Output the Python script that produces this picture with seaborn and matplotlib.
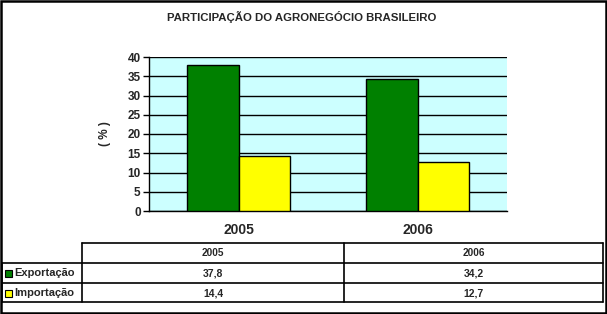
import matplotlib
matplotlib.use("Agg")
import matplotlib.pyplot as plt
import seaborn as sns
import pandas as pd
from matplotlib.patches import Rectangle
from matplotlib.lines import Line2D

# ---- data ----
anos = ["2005", "2006"]
series = ["Exportação", "Importação"]
exportacao = [37.8, 34.2]
importacao = [14.4, 12.7]
yticks = [0, 5, 10, 15, 20, 25, 30, 35, 40]
titulo = "PARTICIPAÇÃO DO AGRONEGÓCIO BRASILEIRO"
ylabel = "( % )"
cores = ["#008000", "#FFFF00"]

df = pd.DataFrame({
    "ano": anos * 2,
    "serie": [series[0]] * 2 + [series[1]] * 2,
    "valor": exportacao + importacao,
})

sns.set_style("white")
plt.rcParams["font.family"] = ["Liberation Sans", "DejaVu Sans"]
plt.rcParams["font.weight"] = "bold"

W, H = 607, 314
fig = plt.figure(figsize=(W / 100, H / 100), dpi=100)

# main axes (pixel-based placement)
x0, x1, ytop, ybot = 149, 507, 57, 211
ax = fig.add_axes([x0 / W, 1 - ybot / H, (x1 - x0) / W, (ybot - ytop) / H])
ax.set_facecolor("#CCFFFF")
sns.barplot(data=df, x="ano", y="valor", hue="serie", palette=cores,
            width=0.57, edgecolor="black", linewidth=1, ax=ax, legend=False,
            saturation=1, zorder=3)
ax.set_ylim(0, 40)
ax.set_xlim(-0.5, 1.5)
ax.set_yticks(yticks)
ax.set_yticklabels([str(v) for v in yticks], fontsize=8.5, fontweight="bold")
ax.yaxis.grid(True, color="black", linewidth=1)
ax.set_axisbelow(True)
ax.set_xticks([0, 1])
ax.set_xticklabels(anos, fontsize=10, fontweight="bold")
ax.set_xticks([-0.5, 0.5, 1.5], minor=True)
ax.tick_params(axis="x", which="major", length=0, pad=9)
ax.tick_params(axis="x", which="minor", length=4, width=1, color="black", direction="out")
ax.tick_params(axis="y", length=4, width=1, color="black", direction="out", pad=2, left=True)
ax.set_xlabel("")
ax.set_ylabel(ylabel, fontsize=8.5, fontweight="bold", labelpad=12)
for s in ["top", "right"]:
    ax.spines[s].set_visible(False)
for s in ["left", "bottom"]:
    ax.spines[s].set_color("black")
    ax.spines[s].set_linewidth(1)

# title
fig.text(302 / W, 1 - 17 / H, titulo, ha="center", va="center",
         fontsize=8.2, fontweight="bold")

# ---- data table (overlay axes in pixel coords) ----
tab = fig.add_axes([0, 0, 1, 1], facecolor="none")
tab.set_xlim(0, W)
tab.set_ylim(H, 0)
tab.axis("off")

cx = [2, 82, 344, 603]
ry = [243, 263, 283, 302]
lw = 1.2
# horizontal lines
tab.add_line(Line2D([cx[1], cx[3]], [ry[0], ry[0]], color="black", lw=lw))
for y in ry[1:]:
    tab.add_line(Line2D([cx[0], cx[3]], [y, y], color="black", lw=lw))
# vertical lines
tab.add_line(Line2D([cx[0], cx[0]], [ry[1], ry[3]], color="black", lw=lw))
for x in cx[1:]:
    tab.add_line(Line2D([x, x], [ry[0], ry[3]], color="black", lw=lw))

# header
for j, a in enumerate(anos):
    tab.text((cx[j + 1] + cx[j + 2]) / 2, (ry[0] + ry[1]) / 2 + 0.5, a,
             ha="center", va="center", fontsize=7.2, fontweight="bold")
# rows
valores = [exportacao, importacao]
for i, (nome, vals) in enumerate(zip(series, valores)):
    yc = (ry[i + 1] + ry[i + 2]) / 2 + 0.5
    tab.add_patch(Rectangle((5, yc - 3.5), 7, 7, facecolor=cores[i],
                            edgecolor="black", lw=0.8))
    tab.text(14, yc, nome, ha="left", va="center", fontsize=8, fontweight="bold")
    for j, v in enumerate(vals):
        tab.text((cx[j + 1] + cx[j + 2]) / 2, yc, f"{v:.1f}".replace(".", ","),
                 ha="center", va="center", fontsize=7.5, fontweight="bold")

# outer border
tab.add_patch(Rectangle((1, 1), W - 2, H - 2, facecolor="none",
                        edgecolor="black", lw=1.8))

fig.savefig("out.png", dpi=100)
